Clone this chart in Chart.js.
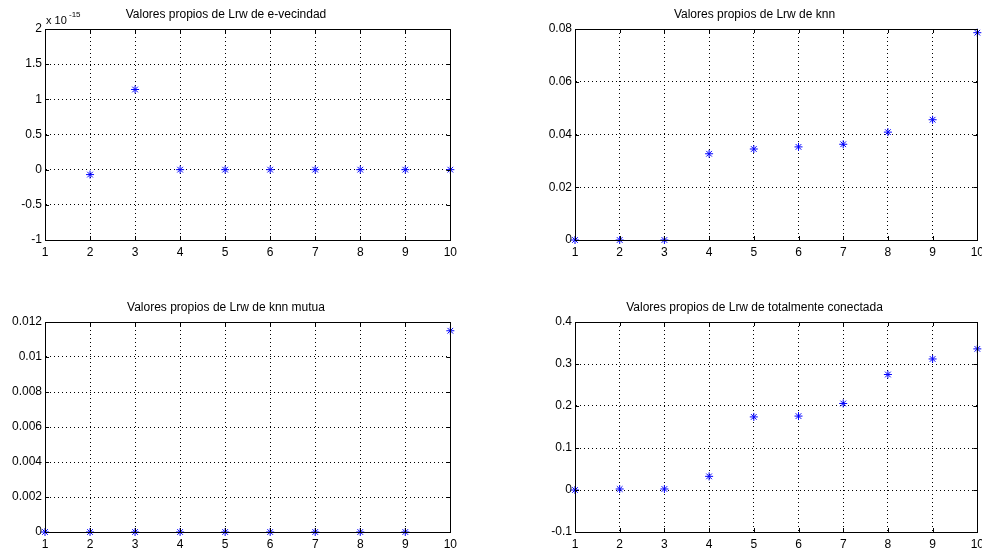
<!DOCTYPE html>
<html>
<head>
<meta charset="utf-8">
<script src="https://cdn.jsdelivr.net/npm/chart.js@4"></script>
<style>
  html, body { margin: 0; padding: 0; background: #fff; overflow: hidden; }
  body { width: 982px; height: 550px; position: relative; }
  .box { position: absolute; }
</style>
</head>
<body>
<div class="box" id="b1" style="left:0px;top:0px;width:462px;height:262px"><canvas id="c1"></canvas></div>
<div class="box" id="b2" style="left:530px;top:0px;width:459px;height:262px"><canvas id="c2"></canvas></div>
<div class="box" id="b3" style="left:0px;top:293px;width:462px;height:261px"><canvas id="c3"></canvas></div>
<div class="box" id="b4" style="left:530px;top:293px;width:459px;height:261px"><canvas id="c4"></canvas></div>
<script>
// --- data ---
const indices = [1, 2, 3, 4, 5, 6, 7, 8, 9, 10];
// e-vecindad values, in units of 1e-15 (first one falls outside the axes)
const eVecindad = [null, -0.07, 1.14, 0, 0, 0, 0, 0, 0, 0];
const knn = [0, 0, 0, 0.0327, 0.0345, 0.0353, 0.0363, 0.0409, 0.0456, 0.0786];
const knnMutua = [0, 0, 0, 0, 0, 0, 0, 0, 0, 0.0115];
const totalConectada = [0, 0.0024, 0.0024, 0.0325, 0.174, 0.176, 0.206, 0.275, 0.312, 0.336];

const titles = [
  'Valores propios de Lrw de e-vecindad',
  'Valores propios de Lrw de knn',
  'Valores propios de Lrw de knn mutua',
  'Valores propios de Lrw de totalmente conectada'
];
const yRanges = [
  { min: -1, max: 2, step: 0.5 },
  { min: 0, max: 0.08, step: 0.02 },
  { min: 0, max: 0.012, step: 0.002 },
  { min: -0.1, max: 0.4, step: 0.1 }
];

const FONT = "'Liberation Sans', Arial, sans-serif";

// MATLAB style box around the axes + optional exponent label
const boxPlugin = {
  id: 'matlabBox',
  afterDraw(chart) {
    const a = chart.chartArea;
    const ctx = chart.ctx;
    ctx.save();
    ctx.strokeStyle = '#000';
    ctx.lineWidth = 1;
    ctx.strokeRect(Math.round(a.left) + 0.5, Math.round(a.top) + 0.5,
      Math.round(a.right - a.left), Math.round(a.bottom - a.top));
    // small inner tick marks
    const xs = chart.scales.x, ys = chart.scales.y;
    ctx.beginPath();
    xs.ticks.forEach(t => {
      const px = Math.round(xs.getPixelForValue(t.value)) + 0.5;
      ctx.moveTo(px, a.bottom); ctx.lineTo(px, a.bottom - 4);
      ctx.moveTo(px, a.top); ctx.lineTo(px, a.top + 4);
    });
    ys.ticks.forEach(t => {
      const py = Math.round(ys.getPixelForValue(t.value)) + 0.5;
      ctx.moveTo(a.left, py); ctx.lineTo(a.left + 4, py);
      ctx.moveTo(a.right, py); ctx.lineTo(a.right - 4, py);
    });
    ctx.stroke();
    const exp = chart.options.plugins.matlabBox && chart.options.plugins.matlabBox.exponent;
    if (exp) {
      ctx.fillStyle = '#000';
      ctx.textBaseline = 'alphabetic';
      ctx.font = '11px ' + FONT;
      ctx.fillText('x 10', a.left + 1, a.top - 5);
      ctx.font = '8px ' + FONT;
      ctx.fillText(exp, a.left + 24, a.top - 12);
    }
    ctx.restore();
  }
};

function makeChart(id, values, idx, exponent) {
  const r = yRanges[idx];
  return new Chart(document.getElementById(id), {
    type: 'scatter',
    data: {
      datasets: [{
        data: indices.map((x, i) => ({ x: x, y: values[i] })),
        pointStyle: 'star',
        pointRadius: 4,
        pointHoverRadius: 4,
        borderColor: '#0000ff',
        backgroundColor: '#0000ff',
        borderWidth: 1,
        showLine: false,
        clip: false
      }]
    },
    options: {
      responsive: true,
      maintainAspectRatio: false,
      animation: false,
      layout: { padding: { left: 0, right: 10, top: 0, bottom: 0 } },
      plugins: {
        legend: { display: false },
        tooltip: { enabled: false },
        title: {
          display: true,
          text: titles[idx],
          color: '#000',
          font: { family: FONT, size: 12, weight: 'normal', lineHeight: 1.2 },
          padding: { top: 7.6, bottom: 7 }
        },
        matlabBox: { exponent: exponent }
      },
      scales: {
        x: {
          type: 'linear',
          min: 1, max: 10,
          afterFit: s => { s.height = 22; },
          ticks: {
            stepSize: 1,
            color: '#000',
            padding: 5,
            font: { family: FONT, size: 12 }
          },
          grid: {
            color: '#000',
            lineWidth: 1,
            drawTicks: false
          },
          border: { display: true, color: '#000', dash: [1, 3] }
        },
        y: {
          type: 'linear',
          min: r.min, max: r.max,
          afterFit: s => { s.width = 45; },
          ticks: {
            stepSize: r.step,
            color: '#000',
            padding: 3,
            font: { family: FONT, size: 12 },
            callback: v => String(Math.round(v * 1e6) / 1e6)
          },
          grid: {
            color: '#000',
            lineWidth: 1,
            drawTicks: false
          },
          border: { display: true, color: '#000', dash: [1, 3] }
        }
      }
    },
    plugins: [boxPlugin]
  });
}

makeChart('c1', eVecindad, 0, '-15');
makeChart('c2', knn, 1, null);
makeChart('c3', knnMutua, 2, null);
makeChart('c4', totalConectada, 3, null);
</script>
</body>
</html>
